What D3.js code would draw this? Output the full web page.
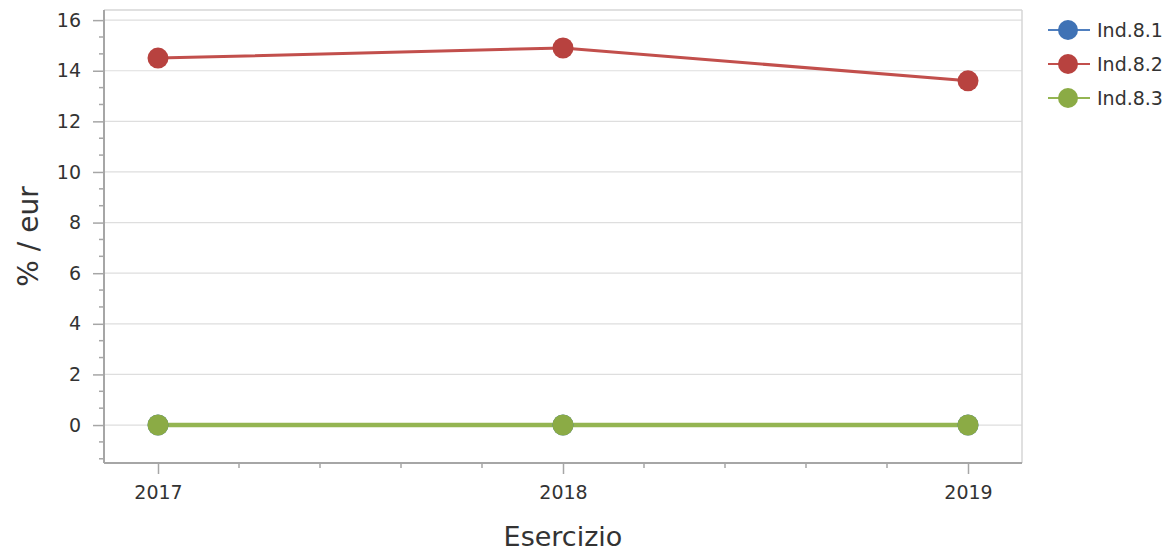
<!DOCTYPE html>
<html><head><meta charset="utf-8">
<script src="https://cdn.jsdelivr.net/npm/d3@7"></script>
<style>html,body{margin:0;padding:0;background:#fff;}svg{display:block;}</style>
</head><body>
<svg id="c" width="1171" height="553"></svg>
<script>
const years = [2017, 2018, 2019];
const seriesNames = ["Ind.8.1", "Ind.8.2", "Ind.8.3"];
const ind81 = [0, 0, 0];
const ind82 = [14.5, 14.9, 13.6];
const ind83 = [0, 0, 0];
const yTicks = [0, 2, 4, 6, 8, 10, 12, 14, 16];
const xTicks = [2017, 2018, 2019];
const xTitle = "Esercizio";
const yTitle = "% / eur";

const colors = ["#3f72b5", "#b8423f", "#8bab45"];
const lineColors = ["#4f7fbf", "#c24f4c", "#94b552"];
const series = [ind81, ind82, ind83];

const svg = d3.select("#c");
const L = 104, R = 1022, T = 10, B = 463;
const x = d3.scaleLinear().domain([2017, 2019]).range([158, 968]);
const y = d3.scaleLinear().domain([-1.5, 16.4]).range([B, T]);
const font = "'DejaVu Sans', Verdana, sans-serif";

// grid
svg.append("g").selectAll("line").data(yTicks).join("line")
  .attr("x1", L).attr("x2", R).attr("y1", d => y(d)).attr("y2", d => y(d))
  .attr("stroke", "#dedede").attr("stroke-width", 1.2);
// top and right border
svg.append("line").attr("x1", L).attr("x2", R).attr("y1", T).attr("y2", T).attr("stroke", "#d6d6d6").attr("stroke-width", 1.5);
svg.append("line").attr("x1", R).attr("x2", R).attr("y1", T).attr("y2", B).attr("stroke", "#d6d6d6").attr("stroke-width", 1.5);

// y axis
const yMinor = d3.range(-4, 25).map(k => k * 2 / 3).filter(v => v >= -1.5 && v <= 16.4 && Math.abs(v / 2 - Math.round(v / 2)) > 1e-6);
const yAxis = d3.axisLeft(y).tickValues(yTicks).tickSize(11).tickPadding(12).tickFormat(d3.format("d"));
const gy = svg.append("g").attr("transform", `translate(${L},0)`).call(yAxis);
gy.select(".domain").attr("d", `M0,${T}V${B}`).attr("stroke", "#a6a6a6").attr("stroke-width", 2);
gy.selectAll(".tick line").attr("stroke", "#a6a6a6").attr("stroke-width", 1.5);
gy.selectAll(".tick text").attr("font-family", font).attr("font-size", 19).attr("fill", "#333");
gy.append("g").selectAll("line").data(yMinor).join("line")
  .attr("x1", -5).attr("x2", 0).attr("y1", d => y(d)).attr("y2", d => y(d))
  .attr("stroke", "#a6a6a6").attr("stroke-width", 1.5);

// x axis
const xMinor = d3.range(0, 11).map(k => 2017 + k * 0.2).filter(v => Math.abs(v - Math.round(v)) > 1e-6);
const xAxis = d3.axisBottom(x).tickValues(xTicks).tickSize(11).tickPadding(12).tickFormat(d3.format("d"));
const gx = svg.append("g").attr("transform", `translate(0,${B})`).call(xAxis);
gx.select(".domain").attr("d", `M${L},0H${R}`).attr("stroke", "#a6a6a6").attr("stroke-width", 2);
gx.selectAll(".tick line").attr("stroke", "#a6a6a6").attr("stroke-width", 1.5);
gx.selectAll(".tick text").attr("font-family", font).attr("font-size", 19).attr("fill", "#333");
gx.append("g").selectAll("line").data(xMinor).join("line")
  .attr("x1", d => x(d)).attr("x2", d => x(d)).attr("y1", 0).attr("y2", 5)
  .attr("stroke", "#a6a6a6").attr("stroke-width", 1.5);

// titles
svg.append("text").attr("x", (L + R) / 2).attr("y", 546).attr("text-anchor", "middle")
  .attr("font-family", font).attr("font-size", 27).attr("fill", "#333").text(xTitle);
svg.append("text").attr("transform", `translate(38,${(T + B) / 2}) rotate(-90)`).attr("text-anchor", "middle")
  .attr("font-family", font).attr("font-size", 28).attr("fill", "#333").text(yTitle);

// lines
const lineGen = d3.line().x((d, i) => x(years[i])).y(d => y(d));
const widths = [3, 3, 4.5];
series.forEach((s, k) => {
  svg.append("path").datum(s).attr("d", lineGen).attr("fill", "none")
    .attr("stroke", lineColors[k]).attr("stroke-width", widths[k]);
});
series.forEach((s, k) => {
  svg.append("g").selectAll("circle").data(s).join("circle")
    .attr("cx", (d, i) => x(years[i])).attr("cy", d => y(d)).attr("r", 10.5)
    .attr("fill", colors[k]);
});

// legend
const lg = svg.append("g");
seriesNames.forEach((n, k) => {
  const cy = 30 + k * 34;
  lg.append("line").attr("x1", 1048).attr("x2", 1090).attr("y1", cy).attr("y2", cy)
    .attr("stroke", lineColors[k]).attr("stroke-width", 2);
  lg.append("circle").attr("cx", 1068).attr("cy", cy).attr("r", 10).attr("fill", colors[k]);
  lg.append("text").attr("x", 1097).attr("y", cy).attr("dy", "0.36em")
    .attr("font-family", font).attr("font-size", 19).attr("fill", "#333").text(n);
});
</script>
</body></html>
